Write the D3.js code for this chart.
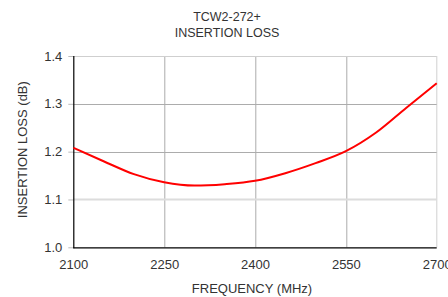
<!DOCTYPE html>
<html>
<head>
<meta charset="utf-8">
<script src="https://cdn.jsdelivr.net/npm/d3@7"></script>
<style>
  body { margin: 0; background: #fff; }
  svg { display: block; font-family: "Liberation Sans", Arial, sans-serif; }
</style>
</head>
<body>
<svg id="chart" width="448" height="297"></svg>
<script>
// ─── Data ──────────────────────────────────────────────────────────────────
const freqMHz = [2100, 2150, 2200, 2250, 2300, 2350, 2400, 2450, 2500, 2550, 2600, 2650, 2700];
const lossDb  = [1.208, 1.180, 1.153, 1.136, 1.129, 1.132, 1.139, 1.155, 1.176, 1.201, 1.240, 1.292, 1.343];
const xTicks  = [2100, 2250, 2400, 2550, 2700];
const yTicks  = [1.0, 1.1, 1.2, 1.3, 1.4];

const titleLines = ["TCW2-272+", "INSERTION LOSS"];

// ─── Layout ────────────────────────────────────────────────────────────────
const margin = { top: 56, right: 11.3, bottom: 49.7, left: 73.3 };
const W = 448, H = 297;
const w = W - margin.left - margin.right;
const h = H - margin.top - margin.bottom;

const svg = d3.select("#chart");
const g = svg.append("g").attr("transform", `translate(${margin.left},${margin.top})`);

const x = d3.scaleLinear().domain([2100, 2700]).range([0, w]);
const y = d3.scaleLinear().domain([1.0, 1.4]).range([h, 0]);

// ─── Grid ──────────────────────────────────────────────────────────────────
g.append("g")
  .selectAll("line")
  .data(xTicks.slice(1))
  .join("line")
    .attr("x1", d => Math.round(x(d)) + 0.5)
    .attr("x2", d => Math.round(x(d)) + 0.5)
    .attr("y1", 0)
    .attr("y2", h)
    .attr("stroke", d => d === 2700 ? "#d0d0d0" : "#acacac")
    .attr("stroke-width", 1);

g.append("g")
  .selectAll("line")
  .data(yTicks.slice(1))
  .join("line")
    .attr("x1", 0)
    .attr("x2", w)
    .attr("y1", d => d === 1.1 ? y(d) : Math.round(y(d)) + 0.5)
    .attr("y2", d => d === 1.1 ? y(d) : Math.round(y(d)) + 0.5)
    .attr("stroke", d => d === 1.4 ? "#cfcfcf" : (d === 1.1 ? "#dcdcdc" : "#acacac"))
    .attr("stroke-width", d => d === 1.1 ? 2 : 1);

// ─── Axes ──────────────────────────────────────────────────────────────────
const xAxis = g.append("g")
  .attr("transform", `translate(0,${h})`)
  .call(d3.axisBottom(x).tickValues(xTicks).tickSize(0).tickPadding(12).tickFormat(d3.format("d")));
xAxis.select(".domain").remove();
xAxis.selectAll("text").attr("font-size", 13).attr("fill", "#333");

const yAxis = g.append("g")
  .call(d3.axisLeft(y).tickValues(yTicks).tickSize(5).tickPadding(6).tickFormat(d3.format(".1f")));
yAxis.select(".domain").remove();
yAxis.selectAll("line").attr("stroke", "#bbb");
yAxis.selectAll("text").attr("font-size", 13).attr("fill", "#333");

// axis lines in black
g.append("line")
  .attr("x1", 0.5).attr("x2", 0.5).attr("y1", 0).attr("y2", h + 1)
  .attr("stroke", "#000").attr("stroke-width", 1.2);
g.append("line")
  .attr("x1", 0).attr("x2", w).attr("y1", h + 0.5).attr("y2", h + 0.5)
  .attr("stroke", "#000").attr("stroke-width", 1.2);

// ─── Curve ─────────────────────────────────────────────────────────────────
const pts = freqMHz.map((f, i) => [f, lossDb[i]]);
g.append("path")
  .datum(pts)
  .attr("fill", "none")
  .attr("stroke", "#ff0000")
  .attr("stroke-width", 2)
  .attr("d", d3.line().x(d => x(d[0])).y(d => y(d[1])).curve(d3.curveMonotoneX));

// ─── Titles ────────────────────────────────────────────────────────────────
svg.append("g")
  .selectAll("text")
  .data(titleLines)
  .join("text")
    .attr("x", 227)
    .attr("y", (d, i) => 21 + i * 15.5)
    .attr("text-anchor", "middle")
    .attr("font-size", 12.5)
    .attr("fill", "#333")
    .text(d => d);

svg.append("text")
  .attr("x", margin.left + w / 2 - 3)
  .attr("y", 293)
  .attr("text-anchor", "middle")
  .attr("font-size", 13)
  .attr("fill", "#333")
  .text("FREQUENCY (MHz)");

svg.append("text")
  .attr("transform", `translate(27,${margin.top + h / 2 - 2}) rotate(-90)`)
  .attr("text-anchor", "middle")
  .attr("font-size", 13)
  .attr("fill", "#333")
  .text("INSERTION LOSS (dB)");
</script>
</body>
</html>
